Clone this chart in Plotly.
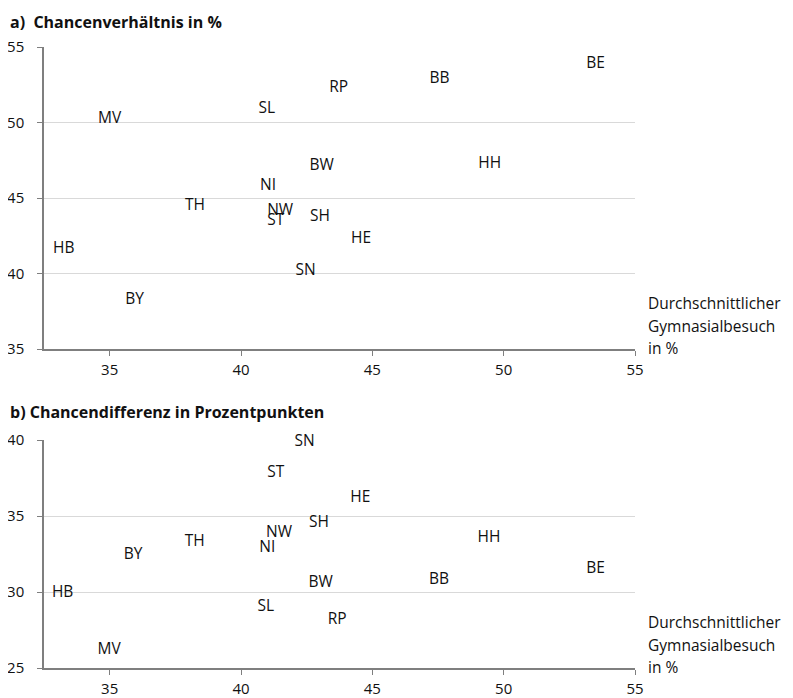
import plotly.graph_objects as go

# Data
states = ["BE", "BB", "HH", "RP", "SL", "MV", "BW", "NI", "TH", "NW", "ST", "SH", "HE", "SN", "HB", "BY"]
x_top = [53.5, 47.56, 49.47, 43.72, 40.98, 35.0, 43.07, 41.03, 38.25, 41.49, 41.32, 43.01, 44.57, 42.46, 33.25, 35.95]
y_top = [53.9, 52.9, 47.25, 52.25, 50.86, 50.2, 47.12, 45.8, 44.47, 44.14, 43.48, 43.71, 42.25, 40.13, 41.59, 38.25]

x_bot = [53.5, 47.54, 49.44, 43.66, 40.94, 34.98, 43.03, 41.0, 38.24, 41.45, 41.32, 42.97, 44.54, 42.42, 33.21, 35.89]
y_bot = [31.51, 30.76, 33.55, 28.13, 28.98, 26.15, 30.56, 32.9, 33.26, 33.85, 37.83, 34.5, 36.18, 39.87, 29.93, 32.43]

x_ticks = [35, 40, 45, 50, 55]
y_ticks_top = [35, 40, 45, 50, 55]
y_ticks_bot = [25, 30, 35, 40]

title_a = "a)\u00a0 Chancenverhältnis in %"
title_b = "b) Chancendifferenz in Prozentpunkten"
x_title_lines = ["Durchschnittlicher", "Gymnasialbesuch", "in %"]

FONT = "Open Sans"
TXT = "#111111"
AX = "#7f7f7f"
GRID = "#d9d9d9"

# page has an 8px body margin; figure positioned accordingly
OFF = 8
W, H = 793 - OFF, 698 - OFF

def px(v):
    return (v - OFF) / W

def py(v):
    return 1 - (v - OFF) / H

fig = go.Figure()
fig.add_trace(go.Scatter(x=x_top, y=y_top, text=states, mode="text",
                         textposition="middle center", cliponaxis=False,
                         textfont=dict(family=FONT, size=15.5, color=TXT),
                         xaxis="x", yaxis="y", showlegend=False, hoverinfo="skip"))
fig.add_trace(go.Scatter(x=x_bot, y=y_bot, text=states, mode="text",
                         textposition="middle center", cliponaxis=False,
                         textfont=dict(family=FONT, size=15.5, color=TXT),
                         xaxis="x2", yaxis="y2", showlegend=False, hoverinfo="skip"))

xdom = [px(44), px(635)]
ydom_top = [py(349), py(47)]
ydom_bot = [py(668), py(440)]

xcommon = dict(range=[32.5, 55], tickvals=x_ticks, showgrid=False, zeroline=False,
               showline=True, linecolor=AX, linewidth=1.5, ticks="outside", ticklen=5,
               tickcolor=AX, tickwidth=1, ticklabelstandoff=1,
               tickfont=dict(family=FONT, size=15, color=TXT), automargin=False, fixedrange=True)
ycommon = dict(showgrid=True, gridcolor=GRID, gridwidth=1, zeroline=False,
               showline=True, linecolor=AX, linewidth=1.5, ticks="outside", ticklen=5,
               tickcolor=AX, tickwidth=1, ticklabelstandoff=10,
               tickfont=dict(family=FONT, size=15, color=TXT), automargin=False, fixedrange=True)

fig.update_layout(
    width=W, height=H,
    margin=dict(l=0, r=0, t=0, b=0),
    paper_bgcolor="white", plot_bgcolor="white",
    font=dict(family=FONT, color=TXT),
    xaxis=dict(domain=xdom, anchor="y", **xcommon),
    yaxis=dict(domain=ydom_top, anchor="x", range=[35, 55], tickvals=y_ticks_top, **ycommon),
    xaxis2=dict(domain=xdom, anchor="y2", **xcommon),
    yaxis2=dict(domain=ydom_bot, anchor="x2", range=[25, 40], tickvals=y_ticks_bot, **ycommon),
    showlegend=False,
)

annotations = [
    dict(text="<b>" + title_a + "</b>", x=px(8), y=py(22), xref="paper", yref="paper",
         xanchor="left", yanchor="middle", showarrow=False,
         font=dict(family=FONT, size=16, color=TXT)),
    dict(text="<b>" + title_b + "</b>", x=px(8), y=py(412), xref="paper", yref="paper",
         xanchor="left", yanchor="middle", showarrow=False,
         font=dict(family=FONT, size=16, color=TXT)),
]
shifts = [46, 23.5, 1]
for xr, yr in (("x domain", "y domain"), ("x2 domain", "y2 domain")):
    for line, ys in zip(x_title_lines, shifts):
        annotations.append(dict(text=line, x=1, y=0, xref=xr, yref=yr, xanchor="left",
                                yanchor="middle", xshift=11, yshift=ys, align="left",
                                showarrow=False,
                                font=dict(family=FONT, size=15.5, color=TXT)))
fig.update_layout(annotations=annotations)

fig.write_html("out.html")
